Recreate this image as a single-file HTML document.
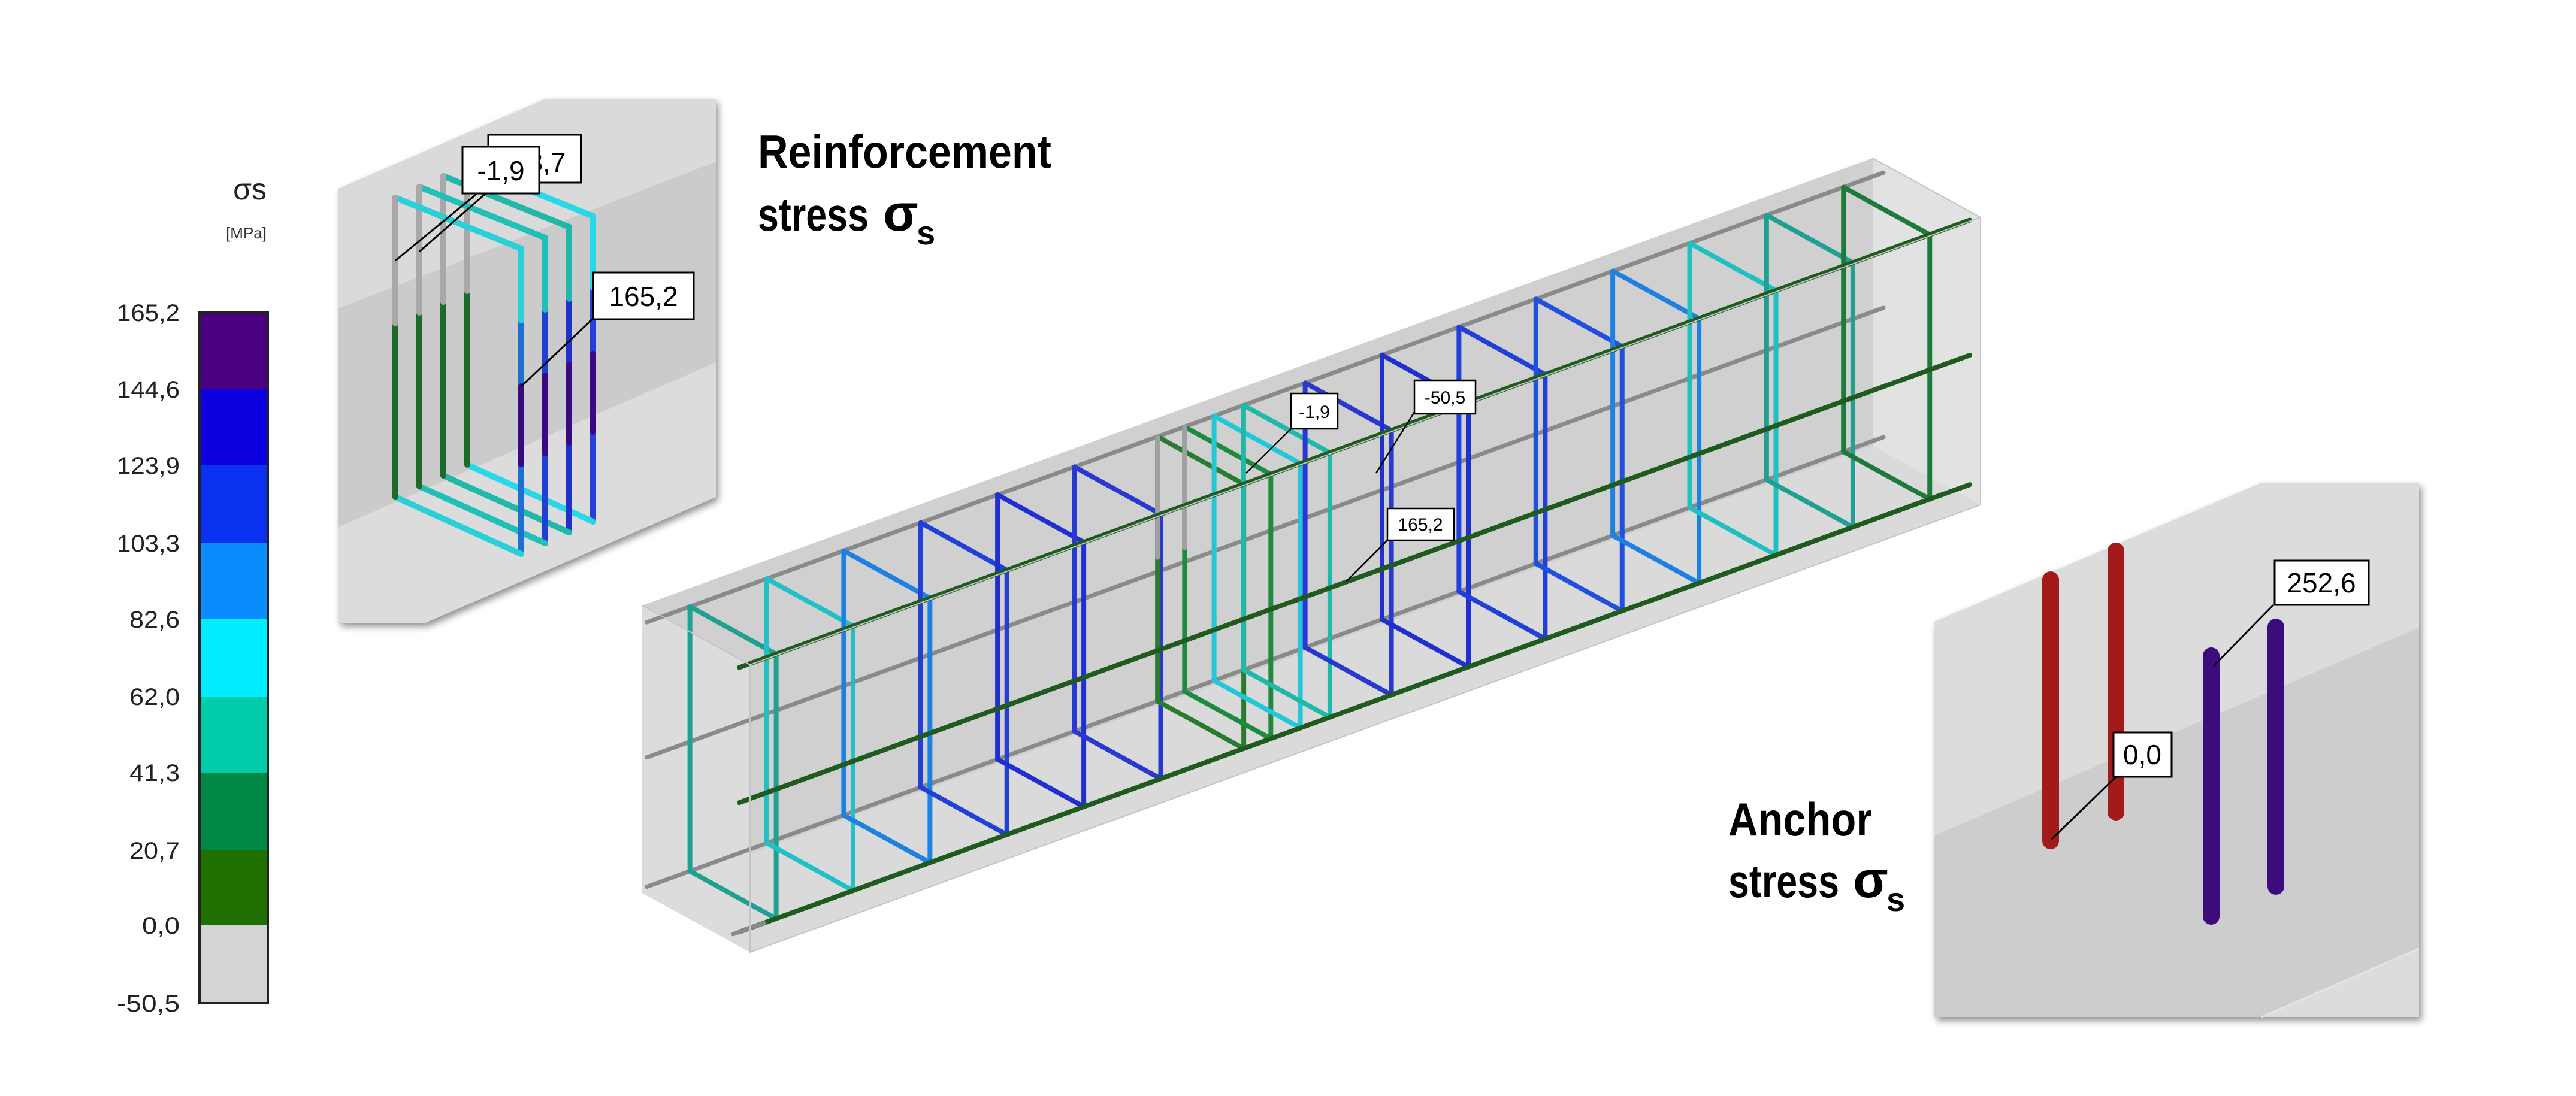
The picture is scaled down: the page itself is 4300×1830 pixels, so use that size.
<!DOCTYPE html>
<html><head><meta charset="utf-8"><style>
html,body{margin:0;padding:0;background:#fff;}
svg{display:block;}
text{font-family:"Liberation Sans",sans-serif;}
</style></head><body>
<svg id="s" width="4300" height="1830" viewBox="0 0 4300 1830" xmlns="http://www.w3.org/2000/svg">
<defs>
<filter id="sh" x="-10%" y="-10%" width="125%" height="125%"><feGaussianBlur in="SourceAlpha" stdDeviation="6"/><feOffset dx="4" dy="6"/><feComponentTransfer><feFuncA type="linear" slope="0.45"/></feComponentTransfer><feMerge><feMergeNode/><feMergeNode in="SourceGraphic"/></feMerge></filter>
</defs>

<text x="445" y="333" font-size="50" text-anchor="end" fill="#222">σs</text>
<text x="445" y="398" font-size="26" text-anchor="end" fill="#333">[MPa]</text>
<g id="legend"></g>

<polygon points="565,315 910,165 1195,165 1195,830 710,1040 565,1040" fill="#dadada" filter="url(#sh)"/>
<polygon points="565,515 1195,270 1195,605 565,880" fill="#cbcbcb"/>
<polygon points="565,880 1195,605 1195,830 710,1040 565,1040" fill="#dcdcdc"/>
<g id="inset"></g>
<rect x="815" y="225" width="155" height="80" fill="#fff" stroke="#000" stroke-width="3"/>
<text x="892" y="287" font-size="46" text-anchor="middle">-18,7</text>
<line x1="798" y1="322" x2="660" y2="435" stroke="#000" stroke-width="3"/>
<line x1="812" y1="322" x2="700" y2="420" stroke="#000" stroke-width="3"/>
<rect x="772" y="245" width="128" height="78" fill="#fff" stroke="#000" stroke-width="3"/>
<text x="836" y="301" font-size="46" text-anchor="middle">-1,9</text>
<line x1="992" y1="530" x2="870" y2="645" stroke="#000" stroke-width="3"/>
<rect x="990" y="455" width="168" height="78" fill="#fff" stroke="#000" stroke-width="3"/>
<text x="1074" y="511" font-size="46" text-anchor="middle">165,2</text>

<text x="1265" y="280" font-size="78" font-weight="bold" textLength="490" lengthAdjust="spacingAndGlyphs" fill="#000">Reinforcement</text>
<text x="1265" y="385" font-size="78" font-weight="bold" textLength="185" lengthAdjust="spacingAndGlyphs" fill="#000">stress</text>
<text x="1474" y="385" font-size="86" font-weight="bold" fill="#000">σ</text>
<text x="1530" y="408" font-size="56" font-weight="bold" fill="#000">s</text>

<text x="2885" y="1395" font-size="78" font-weight="bold" textLength="240" lengthAdjust="spacingAndGlyphs" fill="#000">Anchor</text>
<text x="2885" y="1498" font-size="78" font-weight="bold" textLength="185" lengthAdjust="spacingAndGlyphs" fill="#000">stress</text>
<text x="3093" y="1498" font-size="86" font-weight="bold" fill="#000">σ</text>
<text x="3149" y="1521" font-size="56" font-weight="bold" fill="#000">s</text>

<g id="beam"></g>
<line x1="2155" y1="716" x2="2080" y2="790" stroke="#000" stroke-width="2.5"/>
<rect x="2155" y="657" width="78" height="59" fill="#fff" stroke="#000" stroke-width="2.5"/>
<text x="2194" y="698" font-size="30" text-anchor="middle">-1,9</text>
<line x1="2361" y1="688" x2="2297" y2="790" stroke="#000" stroke-width="2.5"/>
<rect x="2361" y="635" width="102" height="56" fill="#fff" stroke="#000" stroke-width="2.5"/>
<text x="2412" y="674" font-size="30" text-anchor="middle">-50,5</text>
<line x1="2316" y1="902" x2="2247" y2="971" stroke="#000" stroke-width="2.5"/>
<rect x="2316" y="849" width="111" height="53" fill="#fff" stroke="#000" stroke-width="2.5"/>
<text x="2371" y="886" font-size="30" text-anchor="middle">165,2</text>

<polygon points="3229,1038 3775,806 4038,806 4038,1698 3229,1698" fill="#dcdcdc" filter="url(#sh)"/>
<polygon points="3229,1395 4038,1048 4038,1584 3775,1698 3229,1698" fill="#cdcdcd"/>
<line x1="3775" y1="1698" x2="4038" y2="1584" stroke="#e4e4e4" stroke-width="3"/>
<g stroke-linecap="round">
<line x1="3423" y1="968" x2="3423" y2="1404" stroke="#a31a1a" stroke-width="28"/>
<line x1="3532" y1="920" x2="3532" y2="1356" stroke="#a31a1a" stroke-width="28"/>
<line x1="3691" y1="1095" x2="3691" y2="1530" stroke="#3d0c7c" stroke-width="28"/>
<line x1="3799" y1="1047" x2="3799" y2="1480" stroke="#3d0c7c" stroke-width="28"/>
</g>
<line x1="3532" y1="1297" x2="3424" y2="1402" stroke="#000" stroke-width="3"/>
<rect x="3528" y="1223" width="97" height="74" fill="#fff" stroke="#000" stroke-width="3"/>
<text x="3576" y="1276" font-size="46" text-anchor="middle">0,0</text>
<line x1="3795" y1="1010" x2="3695" y2="1112" stroke="#000" stroke-width="3"/>
<rect x="3797" y="936" width="157" height="74" fill="#fff" stroke="#000" stroke-width="3"/>
<text x="3875" y="989" font-size="46" text-anchor="middle">252,6</text>
</svg>
<script>
var NS="http://www.w3.org/2000/svg";
function el(p,t,a,txt){var e=document.createElementNS(NS,t);for(var k in a)e.setAttribute(k,a[k]);if(txt!=null)e.textContent=txt;p.appendChild(e);return e;}
var lg=document.getElementById('legend');
var ys=[522,650,777,907,1034,1163,1290,1420,1545,1675];
var cols=['#4b0082','#0c00e0','#0a30f0','#0a8cff','#00eeff','#00ccaa','#008844','#1f7000','#d4d4d4'];
var labs=['165,2','144,6','123,9','103,3','82,6','62,0','41,3','20,7','0,0','-50,5'];
for(var i=0;i<9;i++)el(lg,'rect',{x:333,y:ys[i],width:114,height:ys[i+1]-ys[i],fill:cols[i]});
el(lg,'rect',{x:333,y:522,width:114,height:1153,fill:'none',stroke:'#222','stroke-width':4});
for(var i=0;i<10;i++){el(lg,'text',{x:300,y:ys[i]+14,'font-size':40,'text-anchor':'end',fill:'#222',textLength:labs[i].length*21,lengthAdjust:'spacingAndGlyphs'},labs[i]);}
var ins=document.getElementById('inset');
function ln(p,x1,y1,x2,y2,c,w){el(p,'line',{x1:x1,y1:y1,x2:x2,y2:y2,stroke:c,'stroke-width':w||10,'stroke-linecap':'round'});}
var ic=[['#1f7a2e','#2ad0d8','#1f6fd0'],['#1f8a40','#20c0b8','#2040d0'],['#1f8a40','#20b8a8','#2030c8'],['#1f7a2e','#28d8e8','#2840d8']];
for(var k=3;k>=0;k--){
 var dx=k*40,dy=-k*18;
 var L=660+dx,R=870+dx,tl=330+dy,bLy=830+dy,tr=415+dy,br=925+dy;
 var c=ic[k];
 ln(ins,L,tl,R,tr,c[1]);
 ln(ins,R,tr,R,br,c[2]);
 ln(ins,L,bLy,R,br,c[1]);
 ln(ins,L,tl,L,bLy,'#1f6a28');
 ln(ins,L,tl,L,tl+210,'#a8a8a8',10);
 ln(ins,R,tr,R,tr+120,c[1]);
 ln(ins,R,tr+230,R,tr+360,'#3a0a80');
}
var bm=document.getElementById('beam');
var O=[1072,1011],D=[2054,-747],W=[180,99],H=[0,480];
function P(u,v,t){return [O[0]+u*D[0]+v*W[0]+t*H[0],O[1]+u*D[1]+v*W[1]+t*H[1]];}
function poly(pts,f,s){el(bm,'polygon',{points:pts.map(function(p){return p[0]+','+p[1]}).join(' '),fill:f,stroke:s||'none','stroke-width':2});}
poly([P(0,0,0),P(1,0,0),P(1,1,0),P(1,1,1),P(0,1,1),P(0,0,1)],'#e2e2e2');
poly([P(0,0,0),P(1,0,0),P(1,0,1),P(0,0,1)],'#d0d0d0');
poly([P(0,0,1),P(1,0,1),P(1,1,1),P(0,1,1)],'#dadada');
poly([P(0,0,0),P(0,1,0),P(0,1,1),P(0,0,1)],'#dcdcdc');
function bar(a,b,c,w){ln(bm,a[0],a[1],b[0],b[1],c,w||8);}
var v0=0.1,v1=0.9,t0=0.03,t1=0.95;
bar(P(-0.005,v0,t0),P(1.0,v0,t0),'#8a8a8a',7);
bar(P(-0.005,v0,0.5),P(1.0,v0,0.5),'#8a8a8a',7);
bar(P(-0.005,v0,t1),P(1.0,v0,t1),'#8a8a8a',7);
var us=[],sc=[];
var reg=['#20a090','#20c0c8','#1e80e0','#2040d8','#2030d0','#2838d0'];
for(var i=0;i<6;i++){us.push(0.03+i*0.0625);sc.push(reg[i]);}
us.push(0.41,0.432,0.456,0.48);sc.push('#2a7a30','#1e8a40','#20c8d8','#20b8a8');
var reg2=['#2838d0','#2030d0','#2040d8','#2050e0','#1e80e0','#20c0c0','#20a090','#1e7a3a'];
for(var i=0;i<8;i++){us.push(0.53+i*0.0625);sc.push(reg2[i]);}
for(var i=0;i<us.length;i++){
 var u=us[i],c=sc[i];
 var a=P(u,v0,t0),b=P(u,v1,t0),cc=P(u,v1,t1),d=P(u,v0,t1);
 bar(a,d,c);bar(a,b,c);bar(d,cc,c);bar(b,cc,c);
 if(i==6||i==7){bar(a,P(u,v0,0.45),'#a0a0a0');}
}
bar(P(0.0,v1,t0),P(1.0,v1,t0),'#1f5a1f',8);
bar(P(0.0,v1,0.5),P(1.0,v1,0.5),'#1f5a1f',8);
bar(P(0.0,v1,t1),P(1.0,v1,t1),'#1f5a1f',8);
bar(P(-0.005,v1,t1),P(0.02,v1,t1),'#8a8a8a',7);
function ed(a,b){ln(bm,a[0],a[1],b[0],b[1],'#c4c4c4',2);}
ed(P(0,1,0),P(1,1,0));ed(P(0,1,1),P(1,1,1));ed(P(0,1,0),P(0,1,1));ed(P(1,1,0),P(1,1,1));ed(P(1,0,0),P(1,1,0));ed(P(0,0,0),P(0,1,0));
</script>
</body></html>
